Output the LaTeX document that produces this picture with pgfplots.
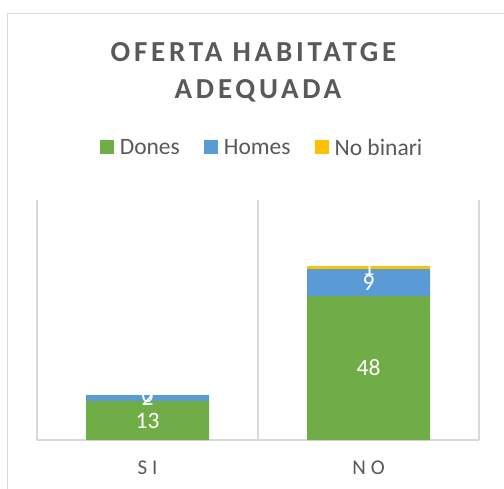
\documentclass[border=0pt]{standalone}
\usepackage{pgfplots}
\pgfplotsset{compat=1.18}
\usepackage{fontspec}
\setmainfont{Carlito}
\definecolor{cgreen}{HTML}{70AD47}
\definecolor{cblue}{HTML}{5B9BD5}
\definecolor{cyellow}{HTML}{FFC000}
\definecolor{ctext}{HTML}{595959}
\definecolor{cgrid}{HTML}{D9D9D9}
\begin{document}
\begin{tikzpicture}[x=1pt,y=1pt]
\useasboundingbox (0,0) rectangle (504,488);
\fill[white] (0,0) rectangle (504,488);
\draw[cgrid, line width=1.3pt] (7.8,-2) -- (7.8,474.3) -- (506,474.3);
\node[anchor=base, text=ctext, font=\fontsize{29}{35}\selectfont\bfseries\addfontfeatures{LetterSpace=13}] at (253.5,426) {OFERTA HABITATGE};
\node[anchor=base, text=ctext, font=\fontsize{29}{35}\selectfont\bfseries\addfontfeatures{LetterSpace=13}] at (258,389.5) {ADEQUADA};
\begin{axis}[at={(37pt,48pt)}, anchor=south west, scale only axis,
  width=442pt, height=240pt,
  ybar stacked, bar width=123pt,
  xmin=-0.5, xmax=1.5, ymin=0, ymax=80,
  xtick={0,1}, xticklabels={SI,NO},
  minor xtick={-0.5,0.5,1.5}, xminorgrids,
  minor grid style={cgrid, line width=1.3pt},
  axis y line=none, axis x line*=bottom,
  x axis line style={cgrid, line width=1.3pt, -},
  major tick length=0pt, minor tick length=0pt,
  xticklabel style={anchor=base, yshift=-34.7pt, text=ctext,
    font=\fontsize{21}{25}\selectfont\addfontfeatures{LetterSpace=24}},
  legend columns=3,
  legend image code/.code={\fill[#1] (0pt,-6.5pt) rectangle (14pt,7.5pt);},
  legend style={at={(0.507,1.217)}, anchor=center, draw=none, fill=none,
    inner sep=0pt, nodes={inner sep=0pt, text=ctext},
    font=\fontsize{23.5}{28}\selectfont, column sep=6pt,
    /tikz/every even column/.append style={column sep=24pt}},
  legend cell align=left,
]
\addplot+[fill=cgreen, draw=none] coordinates {(0,13) (1,48)};
\addlegendentry{Dones}
\addplot+[fill=cblue, draw=none] coordinates {(0,2) (1,9)};
\addlegendentry{Homes}
\addplot+[fill=cyellow, draw=none] coordinates {(0,0) (1,1)};
\addlegendentry{No binari}
\end{axis}
\begin{axis}[at={(37pt,48pt)}, anchor=south west, scale only axis,
  width=442pt, height=240pt,
  xmin=-0.5, xmax=1.5, ymin=0, ymax=80, hide axis, clip=false]
\addplot[draw=none, mark=none, nodes near coords, point meta=explicit symbolic,
  every node near coord/.append style={anchor=center, text=white,
    font=\fontsize{23.5}{28}\selectfont}]
  coordinates {(0,6.2)[13] (0,14)[2] (0,15)[0] (1,24)[48] (1,52.5)[9] (1,57.5)[1]};
\end{axis}
\end{tikzpicture}
\end{document}
